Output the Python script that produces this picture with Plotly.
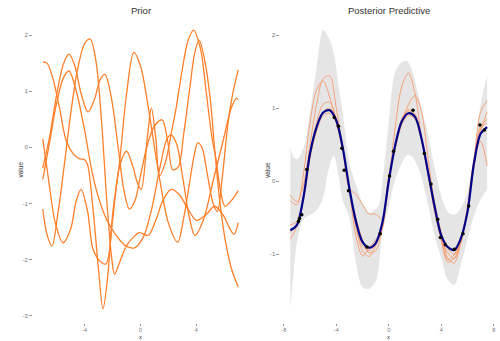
import plotly.graph_objects as go

# ---------------- Prior draws (knot x / y per draw) ----------------
prior1_x = [-7.0, -6.7, -6.3, -5.8, -5.3, -4.8, -4.4, -4.0, -3.79, -3.4, -3.0, -2.69, -2.35, -2.0, -1.52, -1.0, -0.48, 0.0, 0.5, 1.0, 1.5, 2.0, 2.66, 3.1, 3.5, 3.8, 4.1, 4.4, 4.8, 5.2, 5.5, 5.85, 6.25, 6.6, 7.0]
prior1_y = [1.52, 1.50, 1.25, 0.70, 0.10, -0.12, -0.20, -0.22, -0.31, -1.10, -2.20, -2.88, -2.30, -1.20, -0.31, 0.95, 1.69, 1.45, 0.80, 0.00, -0.75, -1.35, -1.69, -1.25, -0.65, -0.20, 0.08, 0.00, -0.50, -1.00, -1.14, -0.55, 0.40, 0.95, 1.38]

prior2_x = [-7.0, -6.6, -6.1, -5.55, -5.0, -4.6, -4.26, -3.79, -3.43, -3.0, -2.48, -2.0, -1.5, -1.0, -0.55, -0.2, 0.05, 0.5, 0.78, 1.1, 1.36, 1.8, 2.2, 2.55, 3.0, 3.4, 3.8, 4.3, 4.7, 5.1, 5.4, 5.75, 6.05, 6.5, 7.0]
prior2_y = [0.15, -0.55, -1.35, -1.70, -1.45, -0.95, -0.75, -1.14, -1.79, -2.00, -2.08, -1.30, -0.34, -0.07, -0.34, -0.65, -0.75, 0.20, 0.70, 0.15, -0.51, -0.25, 0.25, 0.70, 1.40, 1.90, 2.09, 1.75, 1.00, 0.20, -0.20, -0.80, -1.05, -0.95, -0.77]

prior3_x = [-7.0, -6.7, -6.34, -5.93, -5.45, -5.0, -4.5, -4.0, -3.6, -3.2, -2.8, -2.4, -2.05, -1.86, -1.5, -1.0, -0.5, -0.07, 0.55, 1.12, 1.6, 2.2, 2.8, 3.4, 4.0, 4.7, 5.3, 5.9, 6.4, 6.7, 7.0]
prior3_y = [-1.10, -1.55, -1.76, -1.20, -0.30, 0.60, 1.40, 1.85, 1.93, 1.55, 0.50, -1.00, -2.00, -2.26, -2.05, -1.75, -1.60, -1.52, -1.57, -1.28, -0.95, -0.75, -0.85, -1.10, -1.30, -1.20, -1.05, -1.20, -1.45, -1.55, -1.34]

prior4_x = [-7.0, -6.5, -6.0, -5.5, -5.12, -4.7, -4.25, -3.76, -3.3, -2.9, -2.55, -2.1, -1.6, -1.2, -0.8, -0.4, 0.0, 0.5, 1.0, 1.55, 1.95, 2.3, 2.7, 3.1, 3.5, 3.9, 4.2, 4.6, 5.0, 5.3, 5.65, 6.0, 6.5, 7.0]
prior4_y = [-0.37, 0.20, 0.95, 1.50, 1.66, 1.45, 0.95, 0.63, 0.85, 1.20, 1.30, 0.90, 0.00, -0.75, -1.10, -0.95, -0.50, 0.05, 0.38, 0.49, 0.10, -0.40, -0.35, 0.25, 1.00, 1.70, 1.91, 1.55, 0.85, 0.00, -0.90, -1.55, -2.15, -2.49]

prior5_x = [-7.0, -6.5, -6.0, -5.5, -5.12, -4.6, -4.0, -3.5, -3.0, -2.4, -1.8, -1.1, -0.43, 0.2, 0.8, 1.4, 1.9, 2.19, 2.6, 3.0, 3.5, 3.9, 4.5, 5.2, 5.9, 6.5, 6.85, 7.0]
prior5_y = [-0.57, 0.10, 0.80, 1.25, 1.36, 1.00, 0.30, -0.40, -0.90, -1.30, -1.55, -1.75, -1.79, -1.60, -1.10, -0.35, 0.15, 0.22, 0.05, -0.50, -1.25, -1.57, -1.30, -0.60, 0.10, 0.70, 0.87, 0.85]

# ---------------- Posterior predictive ----------------
grid_x = [-7.5, -7.0, -6.5, -6.0, -5.5, -5.0, -4.5, -4.0, -3.5, -3.0, -2.5, -2.0, -1.5, -1.0, -0.5, 0.0,
          0.5, 1.0, 1.5, 2.0, 2.5, 3.0, 3.5, 4.0, 4.5, 5.0, 5.5, 6.0, 6.5, 7.0, 7.5]
post_mean = [-0.67, -0.60, -0.22, 0.38, 0.74, 0.94, 0.97, 0.83, 0.45, -0.10, -0.55, -0.83, -0.91, -0.85, -0.58, 0.00,
             0.50, 0.82, 0.93, 0.88, 0.58, 0.12, -0.35, -0.74, -0.90, -0.94, -0.78, -0.42, 0.25, 0.65, 0.74]
post_draw1 = [-0.19, -0.28, -0.05, 0.50, 1.05, 1.40, 1.44, 1.00, 0.45, -0.10, -0.18, -0.32, -0.45, -0.45, -0.52, 0.00,
              0.75, 1.30, 1.48, 1.20, 0.60, 0.10, -0.40, -0.80, -1.08, -1.00, -0.78, -0.40, 0.30, 0.95, 1.10]
post_draw2 = [-0.27, -0.32, 0.10, 0.80, 1.25, 1.37, 1.15, 0.80, 0.42, -0.14, -0.75, -1.02, -0.92, -0.80, -0.66, 0.05,
              0.45, 0.80, 1.05, 1.17, 0.95, 0.30, -0.30, -0.70, -1.05, -1.12, -0.80, -0.35, 0.30, 0.55, 0.21]
post_draw3 = [-0.79, -0.62, -0.25, 0.35, 0.80, 1.05, 1.08, 0.85, 0.44, -0.14, -0.62, -0.95, -1.03, -0.88, -0.62, 0.08,
              0.50, 0.85, 0.98, 0.92, 0.55, 0.08, -0.42, -0.78, -0.98, -1.06, -0.85, -0.38, 0.28, 0.75, 0.85]
post_draw4 = [-0.60, -0.55, -0.22, 0.34, 0.72, 0.95, 1.00, 0.86, 0.45, -0.10, -0.60, -0.88, -0.95, -0.86, -0.60, 0.05,
              0.45, 0.85, 0.96, 0.90, 0.58, 0.10, -0.38, -0.80, -1.11, -1.05, -0.80, -0.42, 0.25, 0.72, 0.80]
post_draw5 = [-0.70, -0.58, -0.26, 0.32, 0.68, 0.90, 0.93, 0.80, 0.43, -0.12, -0.50, -0.80, -0.98, -0.95, -0.64, 0.02,
              0.48, 0.78, 0.90, 0.85, 0.55, 0.12, -0.34, -0.72, -0.92, -1.00, -0.82, -0.40, 0.20, 0.68, 0.95]

band_x = [-7.5, -7.25, -7.0, -6.5, -6.0, -5.5, -5.0, -4.6, -4.2, -3.8, -3.5, -3.0, -2.5, -2.0, -1.5, -1.0, -0.75, -0.5,
          0.0, 0.5, 1.0, 1.4, 1.8, 2.2, 2.5, 3.0, 3.5, 4.0, 4.5, 5.0, 5.5, 6.0, 6.5, 7.0, 7.5]
band_upper = [0.44, 0.33, 0.30, 0.45, 0.95, 1.55, 2.07, 1.97, 1.76, 1.27, 0.92, 0.25, -0.05, -0.30, -0.43, -0.38, -0.33, -0.05,
              0.80, 1.50, 1.63, 1.64, 1.50, 1.22, 1.00, 0.63, 0.18, -0.20, -0.42, -0.46, -0.37, -0.14, 0.35, 1.05, 1.45]
band_lower = [-1.75, -1.25, -0.84, -0.52, -0.46, -0.40, -0.22, 0.15, 0.35, 0.05, -0.27, -0.50, -1.12, -1.45, -1.47, -1.37, -1.15, -0.70,
              -0.35, 0.03, 0.25, 0.36, 0.33, 0.20, 0.05, -0.33, -0.75, -1.05, -1.35, -1.42, -1.14, -0.80, -0.47, -0.25, -0.11]

obs_x = [-6.88, -6.80, -6.63, -6.25, -4.15, -3.83, -3.57, -3.40, -3.07, -1.66, -0.65, 0.06, 0.37, 1.85,
         2.71, 3.22, 3.73, 3.93, 4.31, 5.00, 5.66, 6.09, 6.95, 7.29]
obs_y = [-0.55, -0.51, -0.46, 0.16, 0.87, 0.75, 0.45, 0.15, -0.13, -0.90, -0.72, 0.07, 0.41, 0.97,
         0.38, -0.04, -0.52, -0.77, -0.87, -0.93, -0.72, -0.34, 0.77, 0.70]

# axis ticks
prior_xticks = [-4, 0, 4]
prior_yticks = [-3, -2, -1, 0, 1, 2]
post_xticks = [-8, -4, 0, 4, 8]
post_yticks = [-1, 0, 1, 2]

PRIOR_COLOR = "#FF7F2A"
DRAW_COLOR = "rgba(247,150,105,0.85)"
BAND_COLOR = "#E5E5E5"
MEAN_COLOR = "#00008B"
FONT = "Liberation Sans, Arial, sans-serif"

fig = go.Figure()

prior_draws = [(prior1_x, prior1_y), (prior2_x, prior2_y), (prior3_x, prior3_y),
               (prior4_x, prior4_y), (prior5_x, prior5_y)]
for xs, ys in prior_draws:
    fig.add_trace(go.Scatter(x=xs, y=ys, mode="lines", xaxis="x", yaxis="y",
                             line=dict(color=PRIOR_COLOR, width=1.3, shape="spline", smoothing=0.9),
                             showlegend=False, hoverinfo="skip"))

# credible band
fig.add_trace(go.Scatter(x=band_x, y=band_lower, mode="lines", xaxis="x2", yaxis="y2",
                         line=dict(width=0, shape="spline", smoothing=0.9, color=BAND_COLOR),
                         showlegend=False, hoverinfo="skip"))
fig.add_trace(go.Scatter(x=band_x, y=band_upper, mode="lines", xaxis="x2", yaxis="y2",
                         line=dict(width=0, shape="spline", smoothing=0.9, color=BAND_COLOR),
                         fill="tonexty", fillcolor=BAND_COLOR,
                         showlegend=False, hoverinfo="skip"))

for draw in [post_draw1, post_draw2, post_draw3, post_draw4, post_draw5]:
    fig.add_trace(go.Scatter(x=grid_x, y=draw, mode="lines", xaxis="x2", yaxis="y2",
                             line=dict(color=DRAW_COLOR, width=1.0, shape="spline", smoothing=0.9),
                             showlegend=False, hoverinfo="skip"))

fig.add_trace(go.Scatter(x=grid_x, y=post_mean, mode="lines", xaxis="x2", yaxis="y2",
                         line=dict(color=MEAN_COLOR, width=2.2, shape="spline", smoothing=0.9),
                         showlegend=False, hoverinfo="skip"))
fig.add_trace(go.Scatter(x=obs_x, y=obs_y, mode="markers", xaxis="x2", yaxis="y2",
                         marker=dict(color="black", size=3.5),
                         showlegend=False, hoverinfo="skip"))

tick_font = dict(family=FONT, size=6, color="#777777")
xtick_font = dict(family=FONT, size=5.5, color="#777777")
common = dict(showgrid=False, zeroline=False, showline=False, ticks="outside",
              tickwidth=0.8, tickcolor="#999999")

fig.update_layout(
    width=500, height=341,
    margin=dict(l=33, r=3, t=16, b=18),
    paper_bgcolor="white", plot_bgcolor="white",
    xaxis=dict(domain=[0, 0.4634], range=[-7.7, 7.7], anchor="y", ticklen=1.5, tickfont=xtick_font,
               tickvals=prior_xticks, ticktext=[str(v) for v in prior_xticks], **common),
    yaxis=dict(domain=[0, 1], range=[-3.13, 2.34], anchor="x", ticklen=3, tickfont=tick_font,
               tickvals=prior_yticks, ticktext=[str(v) for v in prior_yticks], **common),
    xaxis2=dict(domain=[0.5334, 1], range=[-8.25, 8.25], anchor="y2", ticklen=1.5, tickfont=xtick_font,
                tickvals=post_xticks, ticktext=[str(v) for v in post_xticks], **common),
    yaxis2=dict(domain=[0, 1], range=[-1.94, 2.26], anchor="x2", ticklen=3, tickfont=tick_font,
                tickvals=post_yticks, ticktext=[str(v) for v in post_yticks], **common),
)

title_font = dict(family=FONT, size=9.5, color="#333333")
label_font = dict(family=FONT, size=6.5, color="#333333")
xlabel_font = dict(family=FONT, size=6, color="#333333")
annotations = []
for ax, title in [("x", "Prior"), ("x2", "Posterior Predictive")]:
    yref = "y domain" if ax == "x" else "y2 domain"
    annotations.append(dict(text=title, x=0.5, y=1, xref=ax + " domain", yref=yref,
                            xanchor="center", yanchor="middle", yshift=6,
                            showarrow=False, font=title_font))
    annotations.append(dict(text="x", x=0.5, y=0, xref=ax + " domain", yref=yref,
                            xanchor="center", yanchor="bottom", yshift=-18, borderpad=0,
                            showarrow=False, font=xlabel_font))
    annotations.append(dict(text="value", x=0, y=0.5, xref=ax + " domain", yref=yref,
                            xanchor="center", yanchor="middle", xshift=-13, textangle=-90,
                            showarrow=False, font=label_font))
fig.update_layout(annotations=annotations)

fig.write_html("out.html")
